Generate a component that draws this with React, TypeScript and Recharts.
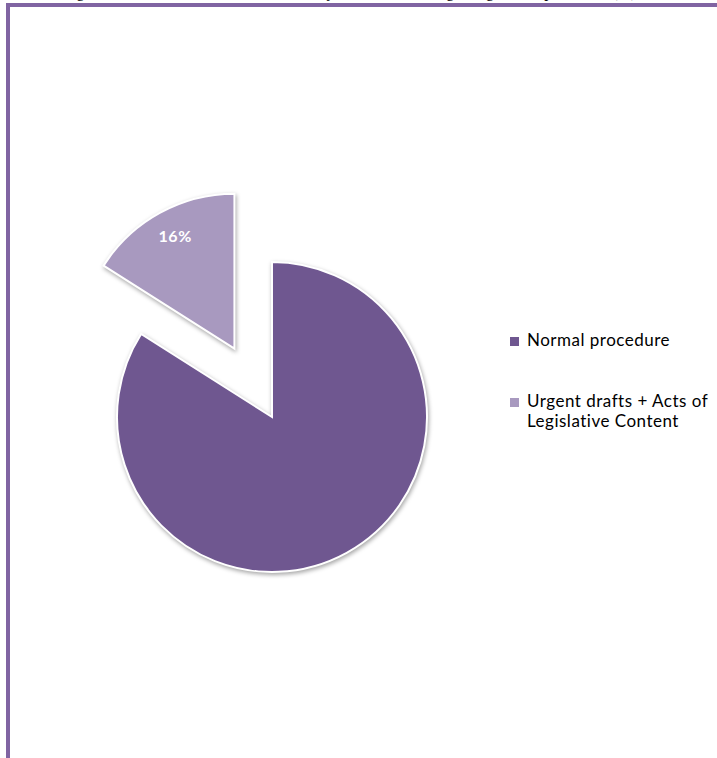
import { PieChart, Pie, Cell, Legend } from 'recharts';

const categories = ['Normal procedure', 'Urgent drafts + Acts of Legislative Content'];
const shares = [84, 16];
const colors = ['#6F5790', '#A899BF'];
const explodedIndex = 1;

const pieData = categories.map((name, i) => ({ name, value: shares[i] }));

const RAD = Math.PI / 180;
const CX = 272;
const CY = 417;
const R = 155;
const EXPLODE = 78;

// mid angle of the exploded slice (pie runs clockwise from 12 o'clock)
const total = shares.reduce((a, b) => a + b, 0);
const before = shares.slice(0, explodedIndex).reduce((a, b) => a + b, 0);
const midAngle = 90 - ((before + shares[explodedIndex] / 2) / total) * 360;
const exCx = CX + EXPLODE * Math.cos(midAngle * RAD);
const exCy = CY - EXPLODE * Math.sin(midAngle * RAD);

const sliceStyle = { filter: 'drop-shadow(1px 2px 2px rgba(0,0,0,0.35))' };

const renderLabel = (props: any) => {
  const { cx, cy, midAngle: ma, outerRadius, percent, index } = props;
  if (index !== explodedIndex) return null;
  const r = outerRadius * 0.82;
  const x = cx + r * Math.cos(-ma * RAD);
  const y = cy + r * Math.sin(-ma * RAD);
  return (
    <text
      x={x + 2}
      y={y - 2}
      fill="#fff"
      textAnchor="middle"
      dominantBaseline="central"
      fontFamily="Lato"
      fontWeight={700}
      fontSize={16}
      letterSpacing={0.5}
    >
      {`${Math.round(percent * 100)}%`}
    </text>
  );
};

const renderLegend = () => (
  <div
    style={{
      fontFamily: 'Lato',
      fontSize: 17,
      letterSpacing: 0.5,
      color: '#000',
      lineHeight: '20px',
    }}
  >
    {categories.map((name, i) => (
      <div key={name} style={{ display: 'flex', alignItems: 'flex-start', marginBottom: 41 }}>
        <div
          style={{
            width: 9,
            height: 9,
            background: colors[i],
            marginTop: 7,
            marginRight: 8,
            flexShrink: 0,
          }}
        />
        <div style={{ width: 185 }}>{name}</div>
      </div>
    ))}
  </div>
);

export default function App() {
  return (
    <div
      style={{
        position: 'fixed',
        left: 0,
        top: 0,
        width: 717,
        height: 758,
        overflow: 'hidden',
        background: '#fff',
      }}
    >
      <div
        style={{
          position: 'absolute',
          left: 8,
          top: -17,
          whiteSpace: 'nowrap',
          fontFamily: '"Liberation Serif", serif',
          fontSize: 16,
          color: '#000',
        }}
      >
        Chart 1 Legislative work of the National Assembly in 2013 according to legislative procedure (%)
      </div>
      <div
        style={{
          position: 'absolute',
          left: 6,
          top: 3,
          width: 740,
          height: 780,
          borderTop: '4px solid #8064A2',
          borderLeft: '4px solid #8064A2',
          boxSizing: 'border-box',
        }}
      />
      <div style={{ position: 'absolute', left: 0, top: 0 }}>
        <PieChart width={717} height={758} margin={{ top: 0, right: 0, bottom: 0, left: 0 }}>
          <Pie
            data={pieData}
            dataKey="value"
            nameKey="name"
            cx={CX}
            cy={CY}
            outerRadius={R}
            startAngle={90}
            endAngle={-270}
            stroke="#fff"
            strokeWidth={2}
            isAnimationActive={false}
            labelLine={false}
          >
            {pieData.map((d, i) => (
              <Cell
                key={d.name}
                fill={i === explodedIndex ? 'none' : colors[i]}
                stroke={i === explodedIndex ? 'none' : '#fff'}
                style={i === explodedIndex ? undefined : sliceStyle}
              />
            ))}
          </Pie>
          <Pie
            data={pieData}
            dataKey="value"
            nameKey="name"
            cx={exCx}
            cy={exCy}
            outerRadius={R}
            startAngle={90}
            endAngle={-270}
            stroke="#fff"
            strokeWidth={2}
            isAnimationActive={false}
            labelLine={false}
            label={renderLabel}
          >
            {pieData.map((d, i) => (
              <Cell
                key={d.name}
                fill={i === explodedIndex ? colors[i] : 'none'}
                stroke={i === explodedIndex ? '#fff' : 'none'}
                style={i === explodedIndex ? sliceStyle : undefined}
              />
            ))}
          </Pie>
          <Legend
            content={renderLegend}
            layout="vertical"
            wrapperStyle={{ position: 'absolute', left: 510, top: 330, width: 205, bottom: 'auto' }}
          />
        </PieChart>
      </div>
    </div>
  );
}
